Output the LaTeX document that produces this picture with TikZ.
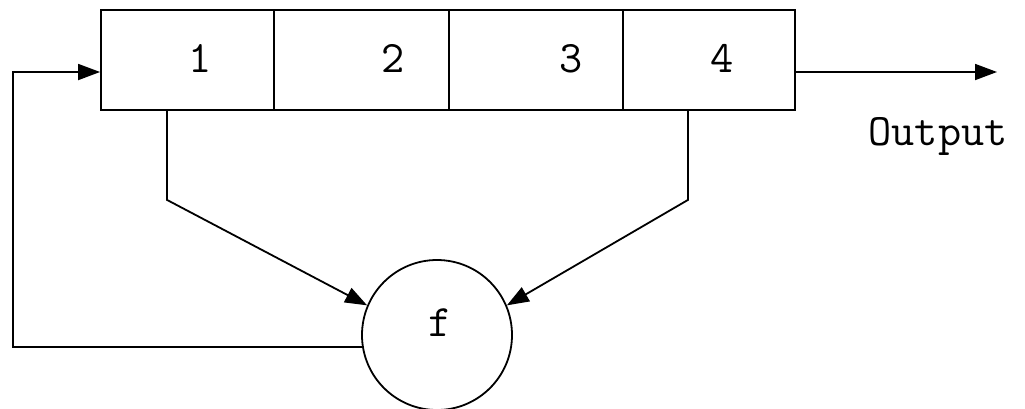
\documentclass[tikz,border=0pt]{standalone}
\usepackage{fontspec}
\usetikzlibrary{arrows.meta}
\begin{document}
\begin{tikzpicture}[x=1pt,y=-1pt,
  line width=1.8pt,
  cell/.style={draw,rectangle,inner sep=0pt,minimum height=100pt},
  lbl/.style={font=\fontsize{45}{52}\selectfont\ttfamily,inner sep=0pt,anchor=base},
  arr/.style={-{Triangle[length=22pt,width=16pt]}},
  fun/.style={draw,circle,inner sep=0pt,minimum size=150pt}]
\useasboundingbox (0,0) rectangle (1025,408);
\node[cell,minimum width=173pt] (r1) at (187.5,60) {};
\node[cell,minimum width=175pt] (r2) at (361.5,60) {};
\node[cell,minimum width=174pt] (r3) at (536,60) {};
\node[cell,minimum width=172pt] (r4) at (709,60) {};
\node[lbl] (l1) at (200,72) {1};
\node[lbl] (l2) at (393,72) {2};
\node[lbl] (l3) at (571,72) {3};
\node[lbl] (l4) at (722,72) {4};
\node[fun] (f) at (437,335) {};
\node[lbl] (fl) at (440,336) {f};
\coordinate (fb) at (13,72);
\coordinate (out) at (997,72);
\node[lbl] (outl) at (938,145) {Output};
\draw[arr] (f.189) -| (fb) -- ([yshift=-12pt]r1.west);
\draw[arr] ([yshift=-12pt]r4.east) -- (out);
\draw[arr] ([xshift=-20.5pt]r1.south) -- ++(0,89) -- (f.157);
\draw[arr] ([xshift=-21pt]r4.south) -- ++(0,89) -- (f.23);
\end{tikzpicture}
\end{document}
